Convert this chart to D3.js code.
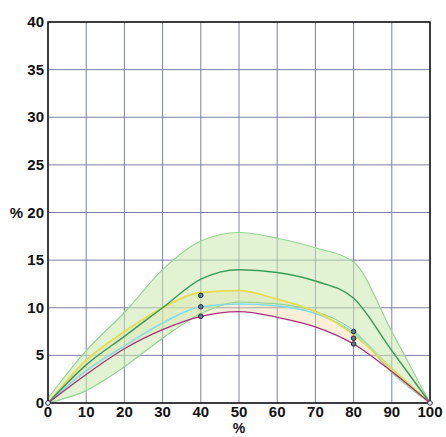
<!DOCTYPE html>
<html>
<head>
<meta charset="utf-8">
<script src="https://cdn.jsdelivr.net/npm/d3@7"></script>
<style>
  body { margin: 0; background: #fff; }
  text { font-family: "Liberation Sans", Arial, sans-serif; font-weight: bold; fill: #111; }
</style>
</head>
<body>
<svg id="chart"></svg>
<script>
"use strict";
// values (percent)
const xs        = [0, 10, 20, 30, 40, 50, 60, 70, 80, 90, 100];
const bandUpper = [0.5, 5.5, 9.5, 14, 17, 17.9, 17.3, 16.3, 14.8, 7.5, 0];
const bandLower = [0, 1.3, 3.8, 6.8, 9.4, 10.6, 10.4, 9.6, 7.6, 3.2, 0];
const darkGreen = [0, 4, 7, 10, 13, 14, 13.7, 12.8, 11, 5.5, 0];
const yellow    = [0, 4.5, 7.5, 10, 11.6, 11.8, 10.9, 9.6, 7.2, 3.6, 0];
const cyan      = [0, 3.4, 6, 8.4, 10.1, 10.4, 10.2, 9.4, 7.4, 3.6, 0];
const magenta   = [0, 3, 5.7, 7.7, 9.1, 9.6, 9, 8, 6.2, 3.3, 0];
const markX     = [40, 40, 40, 80, 80, 80, 0, 100];
const markY     = [11.3, 10.1, 9.1, 7.5, 6.8, 6.2, 0, 0];
const xTicks    = [0, 10, 20, 30, 40, 50, 60, 70, 80, 90, 100];
const yTicks    = [0, 5, 10, 15, 20, 25, 30, 35, 40];

const margin = {top: 22, right: 16, bottom: 34, left: 48},
    width  = 446 - margin.left - margin.right,
    height = 437 - margin.top - margin.bottom;

const svg = d3.select("#chart")
        .attr("width", 446)
        .attr("height", 437)
    .append("g")
        .attr("transform", "translate(" + margin.left + "," + margin.top + ")");

const xScale = d3.scaleLinear().domain([0, 100]).range([0, width]);
const yScale = d3.scaleLinear().domain([0, 40]).range([height, 0]);

// grid
svg.append("g").selectAll("line").data(xTicks).enter().append("line")
    .attr("x1", d => xScale(d)).attr("x2", d => xScale(d))
    .attr("y1", 0).attr("y2", height)
    .attr("stroke", "#6d7399").attr("stroke-width", 0.9);
svg.append("g").selectAll("line").data(yTicks).enter().append("line")
    .attr("x1", 0).attr("x2", width)
    .attr("y1", d => yScale(d)).attr("y2", d => yScale(d))
    .attr("stroke", "#6d7399").attr("stroke-width", 0.9);

const curve = d3.curveMonotoneX;
const pts = arr => xs.map((x, i) => [x, arr[i]]);

// shaded bands
const area = d3.area().curve(curve)
    .x(d => xScale(d.x)).y0(d => yScale(d.lo)).y1(d => yScale(d.hi));
svg.append("path")
    .datum(xs.map((x, i) => ({x: x, lo: magenta[i], hi: yellow[i]})))
    .attr("d", area)
    .attr("fill", "#f3d9a0").attr("fill-opacity", 0.4);
svg.append("path")
    .datum(xs.map((x, i) => ({x: x, lo: bandLower[i], hi: bandUpper[i]})))
    .attr("d", area)
    .attr("fill", "#cbe9b0").attr("fill-opacity", 0.55);

const line = d3.line().curve(curve).x(d => xScale(d[0])).y(d => yScale(d[1]));
const series = [
    {v: bandUpper, c: "#98d494", w: 1.2},
    {v: bandLower, c: "#98d494", w: 1.2},
    {v: cyan,      c: "#86dbe8", w: 1.6},
    {v: yellow,    c: "#e6dc50", w: 1.8},
    {v: darkGreen, c: "#3f9a5a", w: 1.5},
    {v: magenta,   c: "#a8307e", w: 1.3}
];
series.forEach(s => {
    svg.append("path")
        .attr("d", line(pts(s.v)))
        .attr("fill", "none")
        .attr("stroke", s.c)
        .attr("stroke-width", s.w);
});

// frame
svg.append("rect")
    .attr("x", 0).attr("y", 0).attr("width", width).attr("height", height)
    .attr("fill", "none").attr("stroke", "#111").attr("stroke-width", 1.5);

// markers
svg.append("g").selectAll("circle").data(markX).enter().append("circle")
    .attr("cx", d => xScale(d))
    .attr("cy", (d, i) => yScale(markY[i]))
    .attr("r", 2.3)
    .attr("fill", (d, i) => i < 6 ? "#5a7a8a" : "#fff")
    .attr("stroke", "#2a2a55").attr("stroke-width", 1);

// tick labels
svg.append("g").selectAll("text").data(xTicks).enter().append("text")
    .attr("x", d => xScale(d))
    .attr("y", height + 14)
    .attr("text-anchor", "middle")
    .style("font-size", "15px")
    .text(d => d);
svg.append("g").selectAll("text").data(yTicks).enter().append("text")
    .attr("x", -4)
    .attr("y", d => yScale(d) + 5)
    .attr("text-anchor", "end")
    .style("font-size", "15px")
    .text(d => d === 20 ? "% 20" : d);

svg.append("text")
    .attr("x", xScale(50))
    .attr("y", height + 30)
    .attr("text-anchor", "middle")
    .style("font-size", "14px")
    .text("%");
</script>
</body>
</html>
